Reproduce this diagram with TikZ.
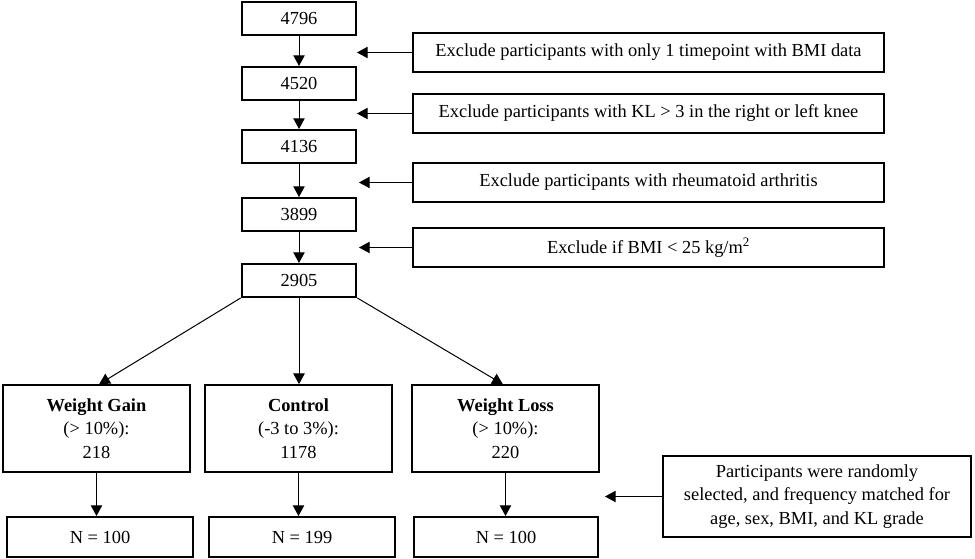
\documentclass[tikz,border=0pt]{standalone}
\usepackage{fontspec}
\setmainfont{Liberation Serif}
\usetikzlibrary{arrows.meta}
\tikzset{
  box/.style={draw=black, line width=1.5pt, fill=white, align=center, inner sep=2pt,
    font=\fontsize{13.8}{17.5}\selectfont},
  arr/.style={line width=0.75pt, -{Triangle[length=8pt,width=8.5pt]}},
}
\begin{document}
\begin{tikzpicture}[x=0.75pt,y=-0.75pt]
\useasboundingbox (0,0) rectangle (975,559);
% main column
\node[box, minimum width=86pt, minimum height=24.75pt] (n1) at (299,18.5) {4796};
\node[box, minimum width=86pt, minimum height=24.75pt] (n2) at (299,83.5) {4520};
\node[box, minimum width=86pt, minimum height=24.75pt] (n3) at (299,146.5) {4136};
\node[box, minimum width=86pt, minimum height=24.75pt] (n4) at (299,214.5) {3899};
\node[box, minimum width=86pt, minimum height=24.75pt] (n5) at (299,280.5) {2905};
% exclusion boxes
\node[box, minimum width=353pt, minimum height=29pt] (r1) at (648.5,52.5) {Exclude participants with only 1 timepoint with BMI data};
\node[box, minimum width=353pt, minimum height=29pt] (r2) at (648.5,113.5) {Exclude participants with KL > 3 in the right or left knee};
\node[box, minimum width=353pt, minimum height=29pt] (r3) at (648.5,182.5) {Exclude participants with rheumatoid arthritis};
\node[box, minimum width=353pt, minimum height=29pt] (r4) at (648.5,247.5) {Exclude if BMI < 25 kg/m\textsuperscript{2}};
\coordinate (t1) at (357,52.5);
\coordinate (t2) at (357,113.5);
\coordinate (t3) at (359,182.5);
\coordinate (t4) at (359,247.5);
% groups
\node[box, minimum width=140pt, minimum height=65pt] (g1) at (96.5,428.5) {\textbf{Weight Gain}\\(> 10\%):\\218};
\node[box, minimum width=140pt, minimum height=65pt] (g2) at (298.5,428.5) {\textbf{Control}\\(-3 to 3\%):\\1178};
\node[box, minimum width=140pt, minimum height=65pt] (g3) at (505.5,428.5) {\textbf{Weight Loss}\\(> 10\%):\\220};
% final boxes
\node[box, minimum width=139.5pt, minimum height=30pt] (b1) at (100,537) {N = 100};
\node[box, minimum width=139.5pt, minimum height=30pt] (b2) at (302,537) {N = 199};
\node[box, minimum width=138pt, minimum height=30pt] (b3) at (506,537) {N = 100};
% matching box
\node[box, minimum width=231pt, minimum height=60.75pt] (p) at (817,496.5) {Participants were randomly\\selected, and frequency matched for\\age, sex, BMI, and KL grade};
\coordinate (t5) at (605,496.5);
% connectors
\draw[arr] (n1) -- (n2);
\draw[arr] (n2) -- (n3);
\draw[arr] (n3) -- (n4);
\draw[arr] (n4) -- (n5);
\draw[arr] (r1.west) -- (t1);
\draw[arr] (r2.west) -- (t2);
\draw[arr] (r3.west) -- (t3);
\draw[arr] (r4.west) -- (t4);
\draw[arr] (n5.south west) -- ([xshift=2pt]g1.north);
\draw[arr] (n5.south) -- (n5.south |- g2.north);
\draw[arr] (n5.south east) -- ([xshift=-2pt]g3.north);
\draw[arr] (g1.south) -- (g1.south |- b1.north);
\draw[arr] (g2.south) -- (g2.south |- b2.north);
\draw[arr] (g3.south) -- (g3.south |- b3.north);
\draw[arr] (p.west) -- (t5);
\end{tikzpicture}
\end{document}
